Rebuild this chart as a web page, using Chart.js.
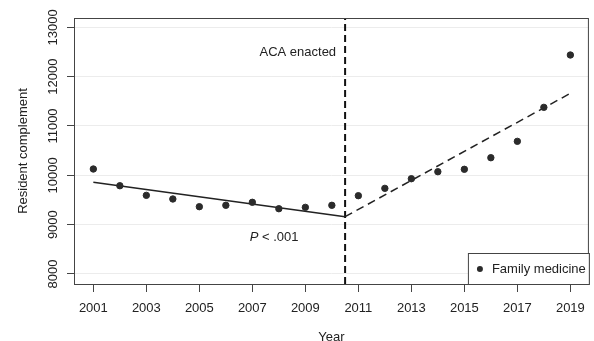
<!DOCTYPE html>
<html>
<head>
<meta charset="utf-8">
<script src="https://cdn.jsdelivr.net/npm/chart.js@4.4.1/dist/chart.umd.min.js"></script>
<style>
  html, body { margin: 0; padding: 0; background: #fff; }
</style>
</head>
<body>
<canvas id="chart" width="594" height="341"></canvas>
<script>
// values
const years = [2001, 2002, 2003, 2004, 2005, 2006, 2007, 2008, 2009, 2010,
               2011, 2012, 2013, 2014, 2015, 2016, 2017, 2018, 2019];
const residents = [10128, 9789, 9594, 9520, 9364, 9392, 9453, 9323, 9351, 9392,
                   9587, 9736, 9931, 10073, 10122, 10357, 10689, 11378, 12439];

const preTrendYears = [2001, 2010.5];
const preTrendValues = [9858, 9161];
const postTrendYears = [2010.5, 2019];
const postTrendValues = [9161, 11662];

const acaYear = 2010.5;
const xTicks = [2001, 2003, 2005, 2007, 2009, 2011, 2013, 2015, 2017, 2019];
const yTicks = [8000, 9000, 10000, 11000, 12000, 13000];

const seriesLabel = "Family medicine";
const xTitle = "Year";
const yTitle = "Resident complement";
const acaLabel = "ACA enacted";
const pLabel = ["P", " < .001"];

const X_MIN = 2000.27, X_MAX = 2019.7;
const Y_MIN = 7797, Y_MAX = 13189;

const FONT = "'Liberation Sans', Arial, Helvetica, sans-serif";
const INK = "#222";

const toXY = (xs, ys) => xs.map((x, i) => ({ x: x, y: ys[i] }));

const framePlugin = {
  id: "frame",
  afterDraw(chart) {
    const ctx = chart.ctx;
    const a = chart.chartArea;
    const xs = chart.scales.x, ys = chart.scales.y;
    ctx.save();

    // box around plot
    ctx.strokeStyle = "#444";
    ctx.lineWidth = 1;
    ctx.strokeRect(a.left + 0.5, a.top + 0.5, a.right - a.left - 1, a.bottom - a.top);

    // rotated y tick labels (R style)
    ctx.fillStyle = INK;
    ctx.font = "13px " + FONT;
    ctx.textAlign = "center";
    ctx.textBaseline = "middle";
    ys.ticks.forEach(t => {
      const py = ys.getPixelForValue(t.value);
      ctx.save();
      ctx.translate(53, py);
      ctx.rotate(-Math.PI / 2);
      ctx.fillText(String(t.value), 0, 0);
      ctx.restore();
    });

    // annotation texts
    const acaPx = xs.getPixelForValue(acaYear);
    ctx.textAlign = "right";
    ctx.fillText(acaLabel, acaPx - 9, ys.getPixelForValue(12485));

    ctx.textAlign = "left";
    let px = xs.getPixelForValue(2006.9);
    const py = ys.getPixelForValue(8749);
    ctx.font = "italic 13px " + FONT;
    ctx.fillText(pLabel[0], px, py);
    px += ctx.measureText(pLabel[0]).width;
    ctx.font = "13px " + FONT;
    ctx.fillText(pLabel[1], px, py);

    // legend box, bottom right inside plot
    const lw = 121, lh = 31;
    const lx = a.right - lw, ly = a.bottom - lh;
    ctx.fillStyle = "#fff";
    ctx.fillRect(lx, ly, lw, lh);
    ctx.strokeStyle = "#444";
    ctx.strokeRect(lx + 0.5, ly + 0.5, lw, lh);
    ctx.fillStyle = "#2b2b2b";
    ctx.beginPath();
    ctx.arc(lx + 12, ly + 16, 3, 0, Math.PI * 2);
    ctx.fill();
    ctx.fillStyle = INK;
    ctx.textBaseline = "middle";
    ctx.fillText(seriesLabel, lx + 24, ly + 16);

    ctx.restore();
  }
};

new Chart(document.getElementById("chart"), {
  type: "scatter",
  data: {
    datasets: [
      {
        label: seriesLabel,
        data: toXY(years, residents),
        backgroundColor: "#2b2b2b",
        borderColor: "#2b2b2b",
        pointRadius: 3.2,
        pointHoverRadius: 3.2
      },
      {
        label: "pre",
        data: toXY(preTrendYears, preTrendValues),
        showLine: true,
        borderColor: "#222",
        borderWidth: 1.5,
        pointRadius: 0
      },
      {
        label: "post",
        data: toXY(postTrendYears, postTrendValues),
        showLine: true,
        borderColor: "#222",
        borderWidth: 1.5,
        borderDash: [8, 5],
        pointRadius: 0
      },
      {
        label: "aca",
        data: toXY([acaYear, acaYear], [Y_MIN, Y_MAX]),
        showLine: true,
        borderColor: "#111",
        borderWidth: 2,
        borderDash: [7, 4],
        pointRadius: 0
      }
    ]
  },
  options: {
    responsive: false,
    animation: false,
    layout: { padding: { top: 18, right: 5, left: 0, bottom: 0 } },
    plugins: {
      legend: { display: false },
      tooltip: { enabled: false }
    },
    scales: {
      x: {
        type: "linear",
        min: X_MIN,
        max: X_MAX,
        afterBuildTicks: s => { s.ticks = xTicks.map(v => ({ value: v })); },
        afterFit: s => { s.height = 57; },
        border: { display: false },
        grid: { drawOnChartArea: false, tickColor: "#444", tickLength: 8 },
        ticks: {
          color: INK,
          font: { family: FONT, size: 13 },
          padding: 9,
          maxRotation: 0,
          callback: v => String(v)
        },
        title: {
          display: true,
          text: xTitle,
          color: INK,
          font: { family: FONT, size: 13 },
          padding: { top: 10, bottom: -4 }
        }
      },
      y: {
        min: Y_MIN,
        max: Y_MAX,
        afterBuildTicks: s => { s.ticks = yTicks.map(v => ({ value: v })); },
        afterFit: s => { s.width = 74; },
        border: { display: false },
        grid: { color: "#ececec", tickColor: "#444", tickLength: 7 },
        ticks: { display: false },
        title: {
          display: true,
          text: yTitle,
          color: INK,
          font: { family: FONT, size: 13 },
          padding: { top: 16, bottom: 0 }
        }
      }
    }
  },
  plugins: [framePlugin]
});
</script>
</body>
</html>
